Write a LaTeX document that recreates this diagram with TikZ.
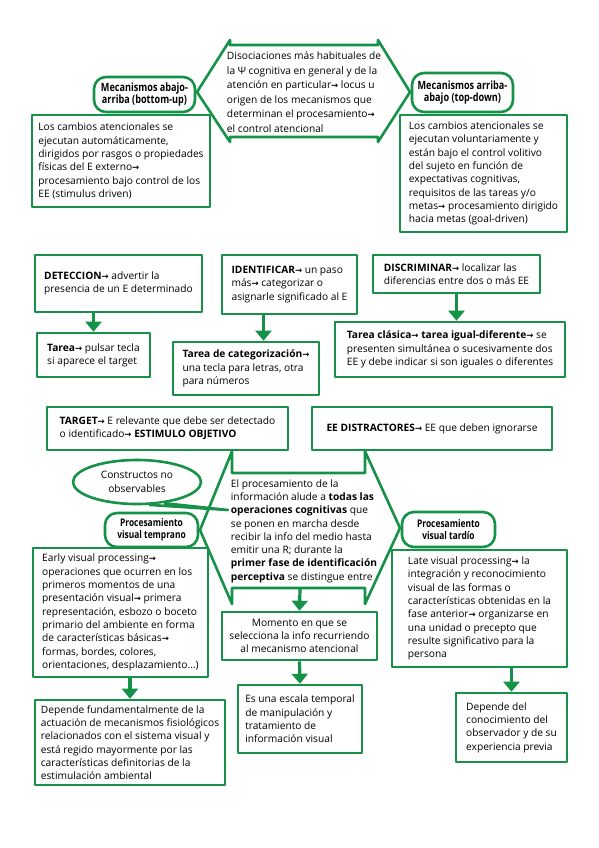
\documentclass[tikz,border=0pt]{standalone}
\usepackage{fontspec}
\setmainfont{Open Sans}
\newfontfamily\flechafont{DejaVu Sans}
\newfontfamily\titfont[FakeStretch=0.8]{Open Sans}
\usepackage{xcolor}
\usepackage{tikz}
\usetikzlibrary{arrows.meta}
\usetikzlibrary{shapes.geometric}

\definecolor{verde}{RGB}{22,145,72}
\newcommand{\fl}{{\flechafont\bfseries\fontsize{8.5}{8}\selectfont →}}

\tikzset{
  borde/.style = {draw = verde, line width = 2.6pt, line join = round},
  caja/.style = {borde, fill = white, align = left, inner sep = 3pt,
    font = \fontsize{10.2}{13.3}\selectfont},
  titulo/.style = {borde, fill = white, rounded corners = 12pt, align = center,
    inner sep = 1pt, font = \titfont\bfseries\fontsize{11.4}{12.5}\selectfont},
  subtitulo/.style = {titulo, font = \titfont\bfseries\fontsize{10.5}{12}\selectfont},
  flecha/.style = {draw = verde, line width = 3.2pt,
    -{Triangle[width = 16pt, length = 10pt]}}
}

\begin{document}
\begin{tikzpicture}[x = 1pt, y = -1pt]
            \useasboundingbox[fill = white] (0, 0) rectangle (599, 848);

            % bloque superior
            \draw[borde] (230, 40) -- (230, 45) -- (378, 45) -- (378, 40) -- (410, 92)
                -- (378, 142) -- (378, 137) -- (230, 137) -- (230, 142) -- (197, 92) -- cycle;
            \node[align = left, font = \fontsize{10.2}{14.5}\selectfont] (disoc) at (304, 92)
                {Disociaciones más habituales de\\la Ψ cognitiva en general y de la\\
                 atención en particular\fl{} locus u\\origen de los mecanismos que\\
                 determinan el procesamiento\fl\\el control atencional};

            \node[titulo, minimum width = 101pt, minimum height = 35pt] (abajo) at (144.5, 94.5)
                {Mecanismos abajo-\\arriba (bottom-up)};
            \node[titulo, minimum width = 101pt, minimum height = 39pt] (arriba) at (462.5, 92.5)
                {Mecanismos arriba-\\abajo (top-down)};

            \node[caja, minimum width = 178pt, minimum height = 92pt] (botup) at (121, 161)
                {Los cambios atencionales se\\ejecutan automáticamente,\\
                 dirigidos por rasgos o propiedades\\físicas del E externo\fl\\
                 procesamiento bajo control de los\\EE (stimulus driven)};
            \node[caja, minimum width = 167pt, minimum height = 117pt] (topdown) at (483.5, 173.5)
                {Los cambios atencionales se\\ejecutan voluntariamente y\\
                 están bajo el control volitivo\\del sujeto en función de\\
                 expectativas cognitivas,\\requisitos de las tareas y/o\\
                 metas\fl{} procesamiento dirigido\\hacia metas (goal-driven)};

            % tareas
            \node[caja, minimum width = 167pt, minimum height = 57pt] (detec) at (118.5, 283.5)
                {\textbf{DETECCION}\fl{} advertir la\\presencia de un E determinado};
            \node[caja, minimum width = 113pt, minimum height = 44pt] (tdetec) at (93.5, 355)
                {\textbf{Tarea}\fl{} pulsar tecla\\si aparece el target};
            \node[caja, minimum width = 135pt, minimum height = 59pt] (ident) at (289.5, 284.5)
                {\textbf{IDENTIFICAR}\fl{} un paso\\más\fl{} categorizar o\\asignarle significado al E};
            \node[caja, minimum width = 146pt, minimum height = 53pt] (tident) at (246, 368.5)
                {\textbf{Tarea de categorización}\fl\\una tecla para letras, otra\\para números};
            \node[caja, minimum width = 167pt, minimum height = 38pt] (discr) at (456.5, 274)
                {\textbf{DISCRIMINAR}\fl{} localizar las\\diferencias entre dos o más EE};
            \node[caja, minimum width = 230pt, minimum height = 55pt] (tdiscr) at (450, 349.5)
                {\textbf{Tarea clásica\fl{} tarea igual-diferente}\fl{} se\\
                 presenten simultánea o sucesivamente dos\\
                 EE y debe indicar si son iguales o diferentes};

            \draw[flecha] (tdetec.north |- detec.south) -- (tdetec.north);
            \draw[flecha] ([xshift = -26pt] ident.south) -- ([xshift = -26pt] ident.south |- tident.north);
            \draw[flecha] (discr.south) -- (discr.south |- tdiscr.north);

            \node[caja, minimum width = 241pt, minimum height = 43pt] (target) at (167.5, 428.5)
                {\textbf{TARGET}\fl{} E relevante que debe ser detectado\\
                 o identificado\fl{} \textbf{ESTIMULO OBJETIVO}};
            \node[caja, minimum width = 240pt, minimum height = 43pt] (distr) at (432, 428.5)
                {\textbf{EE DISTRACTORES}\fl{} EE que deben ignorarse};

            % bloque central
            \coordinate (ci) at (232, 473);
            \coordinate (cd) at (365, 473);
            \draw[borde] (ci |- target.south) -- (ci) -- (cd) -- (cd |- distr.south) -- (400, 528)
                -- (365, 604) -- (365, 588) -- (232, 588) -- (232, 604) -- (200, 530) -- cycle;
            \coordinate (cb) at (300, 588);
            \node[align = left, font = \fontsize{10.2}{13.3}\selectfont] (proc) at (304, 531)
                {El procesamiento de la\\información alude a \textbf{todas las}\\
                 \textbf{operaciones cognitivas} que\\se ponen en marcha desde\\
                 recibir la info del medio hasta\\emitir una R; durante la\\
                 \textbf{primer fase de identificación}\\\textbf{perceptiva} se distingue entre};

            \node[borde, ellipse, fill = white, minimum width = 128pt, minimum height = 44pt,
                align = center, font = \fontsize{10.2}{13.3}\selectfont] (constr) at (137, 482)
                {Constructos no\\observables};
            \draw[borde, fill = white] (constr.-62) -- (228, 510) -- (constr.-38);

            \node[subtitulo, minimum width = 93pt, minimum height = 34pt] (temprano) at (151.5, 530)
                {Procesamiento\\visual temprano};
            \node[subtitulo, minimum width = 93pt, minimum height = 35pt] (tardio) at (448.5, 529.5)
                {Procesamiento\\visual tardío};

            \node[caja, minimum width = 175pt, minimum height = 129pt] (early) at (120.5, 612.5)
                {Early visual processing\fl\\operaciones que ocurren en los\\
                 primeros momentos de una\\presentación visual\fl{} primera\\
                 representación, esbozo o boceto\\primario del ambiente en forma\\
                 de características básicas\fl\\formas, bordes, colores,\\
                 orientaciones, desplazamiento...)};
            \node[caja, align = center, minimum width = 155pt, minimum height = 48pt] (momento) at (299.5, 636)
                {Momento en que se\\selecciona la info recurriendo\\al mecanismo atencional};
            \node[caja, minimum width = 124pt, minimum height = 68pt] (escala) at (300, 719)
                {Es una escala temporal\\de manipulación y\\tratamiento de\\información visual};
            \node[caja, minimum width = 190pt, minimum height = 85pt] (depfis) at (130, 742.5)
                {Depende fundamentalmente de la\\actuación de mecanismos fisiológicos\\
                 relacionados con el sistema visual y\\está regido mayormente por las\\
                 características definitorias de la\\estimulación ambiental};
            \node[caja, minimum width = 175pt, minimum height = 117pt] (late) at (479.5, 608.5)
                {Late visual processing\fl{} la\\integración y reconocimiento\\
                 visual de las formas o\\características obtenidas en la\\
                 fase anterior\fl{} organizarse en\\una unidad o precepto que\\
                 resulte significativo para la\\persona};
            \node[caja, minimum width = 111pt, minimum height = 69pt] (depobs) at (511.5, 727.5)
                {Depende del\\conocimiento del\\observador y de su\\experiencia previa};

            \draw[flecha] (cb) -- (momento.north);
            \draw[flecha] (momento.south) -- (escala.north);
            \draw[flecha] (depfis.north |- early.south) -- (depfis.north);
            \draw[flecha] (depobs.north |- late.south) -- (depobs.north);
        \end{tikzpicture}
\end{document}
